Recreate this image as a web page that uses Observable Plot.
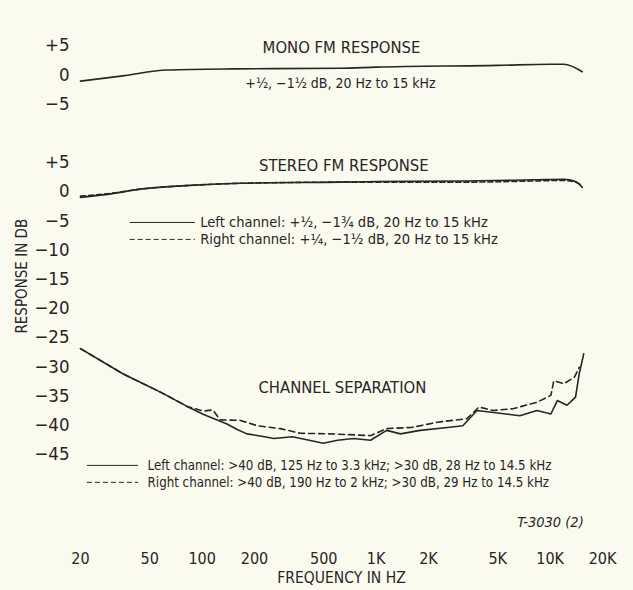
<!DOCTYPE html>
<html>
<head>
<meta charset="utf-8">
<script src="https://cdn.jsdelivr.net/npm/d3@7"></script>
<script src="https://cdn.jsdelivr.net/npm/@observablehq/plot@0.6"></script>
<style>
  html, body { margin: 0; padding: 0; background: #fbfaef; }
  #chart { width: 633px; height: 590px; }
</style>
</head>
<body>
<div id="chart"></div>
<script>
// ---- Axis ticks ----
const freqTicks = [20, 50, 100, 200, 500, 1000, 2000, 5000, 10000, 20000];
const freqTickLabels = ["20", "50", "100", "200", "500", "1K", "2K", "5K", "10K", "20K"];

// Mono panel is drawn 20 dB above the stereo / separation panels on a shared scale
const MONO_OFFSET = 20;
const monoTickValues = [5, 0, -5];
const monoTickLabels = ["+5", "0", "\u22125"];
const stereoTickValues = [5, 0, -5, -10, -15, -20, -25, -30, -35, -40, -45];
const stereoTickLabels = ["+5", "0", "\u22125", "\u221210", "\u221215", "\u221220", "\u221225", "\u221230", "\u221235", "\u221240", "\u221245"];

// ---- Mono FM response (dB) ----
const monoFreq = [20, 35, 63, 150, 624, 1000, 5000, 10000, 12000, 15300];
const monoDb   = [-1.1, -0.2, 0.8, 1.0, 1.1, 1.3, 1.6, 1.8, 1.8, 0.5];

// ---- Stereo FM response (dB) ----
const stereoFreq  = [20, 30, 44, 80, 166, 624, 1000, 3200, 8000, 12000, 14000, 15300];
const stereoLeft  = [-1.0, -0.4, 0.4, 1.0, 1.4, 1.6, 1.7, 1.8, 2.0, 2.1, 1.7, 0.7];
const stereoRight = [-0.8, -0.3, 0.4, 1.0, 1.4, 1.6, 1.6, 1.6, 1.8, 1.9, 1.6, 1.0];

// ---- Channel separation (dB) ----
const sepLeftFreq = [20, 35, 58, 82, 102, 139, 160, 181, 220, 259, 330, 400, 497, 600, 743, 929, 1150, 1380, 1790, 2570, 3150, 3800, 4600, 6700, 8400, 10100, 11000, 12500, 14000, 14700, 15600];
const sepLeftDb   = [-26.9, -31.2, -34.4, -36.8, -38.2, -39.8, -40.8, -41.5, -41.9, -42.3, -42.0, -42.5, -43.1, -42.6, -42.3, -42.6, -40.9, -41.5, -40.9, -40.4, -40.1, -37.5, -37.8, -38.4, -37.5, -38.1, -35.8, -36.6, -35.2, -31.2, -27.8];
const sepRightFreq = [20, 35, 58, 82, 102, 115, 127, 166, 207, 282, 367, 545, 929, 1150, 1600, 2250, 3330, 3900, 4700, 6100, 8400, 10100, 10500, 12000, 13800, 14700];
const sepRightDb   = [-26.9, -31.2, -34.4, -36.8, -37.6, -37.4, -39.1, -39.2, -40.1, -40.6, -41.4, -41.5, -41.8, -40.6, -40.4, -39.5, -38.9, -36.9, -37.5, -37.2, -36.1, -34.9, -32.4, -32.9, -31.8, -30.1];

// ---- Texts ----
const monoTitle = "MONO FM RESPONSE";
const monoNote = "+\u00BD, \u22121\u00BD dB, 20 Hz to 15 kHz";
const stereoTitle = "STEREO FM RESPONSE";
const stereoLegend = ["Left channel: +\u00BD, \u22121\u00BE dB, 20 Hz to 15 kHz", "Right channel: +\u00BC, \u22121\u00BD dB, 20 Hz to 15 kHz"];
const sepTitle = "CHANNEL SEPARATION";
const sepLegend = ["Left channel: >40 dB, 125 Hz to 3.3 kHz; >30 dB, 28 Hz to 14.5 kHz", "Right channel: >40 dB, 190 Hz to 2 kHz; >30 dB, 29 Hz to 14.5 kHz"];
const figureId = "T-3030 (2)";
const xTitle = "FREQUENCY IN HZ";
const yTitle = "RESPONSE IN DB";

// ---- Build tables ----
const zip = (fs, vs) => fs.map((f, i) => ({f, db: vs[i]}));
const mono = zip(monoFreq, monoDb);
const stL = zip(stereoFreq, stereoLeft);
const stR = zip(stereoFreq, stereoRight);
const spL = zip(sepLeftFreq, sepLeftDb);
const spR = zip(sepRightFreq, sepRightDb);

const yTicks = [...monoTickValues.map(v => v + MONO_OFFSET), ...stereoTickValues];
const yLabelMap = new Map([
  ...monoTickValues.map((v, i) => [v + MONO_OFFSET, monoTickLabels[i]]),
  ...stereoTickValues.map((v, i) => [v, stereoTickLabels[i]])
]);
const xTickData = freqTicks.map((v, i) => ({v, label: freqTickLabels[i]}));

const FONT = "'Liberation Sans Narrow', 'DejaVu Sans Condensed', 'Roboto Condensed', sans-serif";
const INK = "#262626";

const chart = Plot.plot({
  width: 633,
  height: 590,
  marginLeft: 80,
  marginRight: 31,
  marginTop: 15.8,
  marginBottom: 48.6,
  style: {background: "transparent", fontFamily: FONT, color: INK},
  x: {type: "log", domain: [20, 20000], axis: null},
  y: {domain: [-60, 30]},
  marks: [
    // x tick labels (drawn through the x scale)
    Plot.text(xTickData, {x: "v", text: "label", frameAnchor: "bottom", lineAnchor: "middle", dy: 16.6, fontSize: 16, fill: INK}),
    Plot.axisY({ticks: yTicks, tickFormat: d => yLabelMap.get(d), tickSize: 0, tickPadding: 11, fontSize: 18.5, label: null}),

    // curves
    Plot.line(mono, {x: "f", y: d => d.db + MONO_OFFSET, stroke: INK, strokeWidth: 1.6, curve: "monotone-x"}),
    Plot.line(stL, {x: "f", y: "db", stroke: INK, strokeWidth: 1.6, curve: "monotone-x"}),
    Plot.line(stR, {x: "f", y: "db", stroke: INK, strokeWidth: 1.6, strokeDasharray: "5,3", curve: "monotone-x"}),
    Plot.line(spL, {x: "f", y: "db", stroke: INK, strokeWidth: 1.6}),
    Plot.line(spR, {x: "f", y: "db", stroke: INK, strokeWidth: 1.6, strokeDasharray: "6,4"}),

    // panel titles
    Plot.text([monoTitle], {x: [632], y: [24.7], text: d => d, fontSize: 16.5, fill: INK}),
    Plot.text([monoNote], {x: [624], y: [18.5], text: d => d, fontSize: 14, fill: INK}),
    Plot.text([stereoTitle], {x: [652], y: [4.45], text: d => d, fontSize: 16.5, fill: INK}),
    Plot.text([sepTitle], {x: [640], y: [-33.6], text: d => d, fontSize: 16.5, fill: INK}),

    // stereo legend
    Plot.ruleY([-5.3], {x1: 38.6, x2: 91.5, stroke: INK, strokeWidth: 1}),
    Plot.ruleY([-8.2], {x1: 38.6, x2: 91.5, stroke: INK, strokeWidth: 1, strokeDasharray: "5,3"}),
    Plot.text(stereoLegend, {x: 97.4, y: [-5.3, -8.2], text: d => d, textAnchor: "start", fontSize: 14.6, fill: INK}),

    // separation legend
    Plot.ruleY([-46.9], {x1: 21.9, x2: 43.1, stroke: INK, strokeWidth: 1}),
    Plot.ruleY([-49.8], {x1: 21.9, x2: 43.1, stroke: INK, strokeWidth: 1, strokeDasharray: "5,3"}),
    Plot.text(sepLegend, {x: 48.6, y: [-46.9, -49.8], text: d => d, textAnchor: "start", fontSize: 13.2, fill: INK}),

    // figure id
    Plot.text([figureId], {x: [15600], y: [-56.7], text: d => d, textAnchor: "end", fontSize: 14.5, fontStyle: "italic", fill: INK}),

    // axis titles
    Plot.text([xTitle], {frameAnchor: "bottom", lineAnchor: "middle", dy: 36.6, text: d => d, fontSize: 15.5, fill: INK}),
    Plot.text([yTitle], {frameAnchor: "left", textAnchor: "middle", lineAnchor: "middle", y: [-14.5], dx: -58, rotate: -90, text: d => d, fontSize: 15, fill: INK})
  ]
});
document.getElementById("chart").appendChild(chart);
</script>
</body>
</html>
